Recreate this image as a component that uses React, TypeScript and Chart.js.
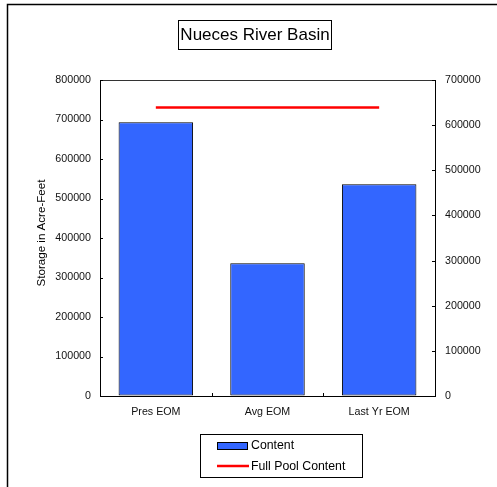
import React, { useEffect, useRef } from 'react';
import { Chart, registerables } from 'chart.js';

Chart.register(...registerables);

const categories = ['Pres EOM', 'Avg EOM', 'Last Yr EOM'];
const contentValues = [693000, 336000, 536000];
const fullPoolValues = [639000, 639000, 639000];
const chartTitle = 'Nueces River Basin';
const yAxisTitle = 'Storage in Acre-Feet';
const leftAxisMax = 800000;
const rightAxisMax = 700000;
const axisStep = 100000;

const FONT = '"Liberation Sans", Arial, Helvetica, sans-serif';

const decorPlugin = {
  id: 'decor',
  afterDraw(chart: any) {
    const ctx = chart.ctx as CanvasRenderingContext2D;
    const area = chart.chartArea;
    ctx.save();

    // outer frame
    ctx.strokeStyle = '#000';
    ctx.lineWidth = 1.5;
    ctx.strokeRect(7.5, 4.5, 700, 700);

    // title box
    ctx.lineWidth = 1;
    ctx.strokeStyle = '#000';
    ctx.strokeRect(178.5, 20.5, 153, 29);
    ctx.fillStyle = '#000';
    ctx.font = `17px ${FONT}`;
    ctx.textAlign = 'center';
    ctx.textBaseline = 'middle';
    ctx.fillText(chartTitle, 255, 35.5);

    // top border of plot area
    ctx.strokeStyle = '#333';
    ctx.beginPath();
    ctx.moveTo(area.left, area.top + 0.5);
    ctx.lineTo(area.right, area.top + 0.5);
    ctx.stroke();

    // inside ticks
    ctx.strokeStyle = '#000';
    const yL = chart.scales.y;
    const yR = chart.scales.y1;
    const xS = chart.scales.x;
    ctx.beginPath();
    yL.ticks.forEach((t: any) => {
      const py = Math.round(yL.getPixelForValue(t.value)) + 0.5;
      ctx.moveTo(area.left, py);
      ctx.lineTo(area.left + 3, py);
    });
    yR.ticks.forEach((t: any) => {
      const py = Math.round(yR.getPixelForValue(t.value)) + 0.5;
      ctx.moveTo(area.right, py);
      ctx.lineTo(area.right - 3, py);
    });
    for (let i = 1; i < categories.length; i++) {
      const px = Math.round((xS.getPixelForValue(i - 1) + xS.getPixelForValue(i)) / 2) + 0.5;
      ctx.moveTo(px, area.bottom);
      ctx.lineTo(px, area.bottom - 3);
    }
    ctx.stroke();

    // y axis title
    ctx.save();
    ctx.translate(42, 233);
    ctx.rotate(-Math.PI / 2);
    ctx.font = `11.6px ${FONT}`;
    ctx.fillStyle = '#000';
    ctx.textAlign = 'center';
    ctx.textBaseline = 'middle';
    ctx.fillText(yAxisTitle, 0, 0);
    ctx.restore();

    // legend
    ctx.strokeStyle = '#000';
    ctx.lineWidth = 1;
    ctx.strokeRect(200.5, 434.5, 162, 43);
    const ds = chart.data.datasets;
    ctx.font = `12.3px ${FONT}`;
    ctx.textAlign = 'left';
    ctx.textBaseline = 'middle';
    // bar item
    ctx.fillStyle = ds[0].backgroundColor;
    ctx.fillRect(217, 442, 31, 8);
    ctx.strokeStyle = '#000';
    ctx.strokeRect(217.5, 442.5, 30, 7);
    ctx.fillStyle = '#000';
    ctx.fillText(ds[0].label, 251, 446);
    // line item
    ctx.strokeStyle = ds[1].borderColor;
    ctx.lineWidth = 2.5;
    ctx.beginPath();
    ctx.moveTo(217, 466);
    ctx.lineTo(249, 466);
    ctx.stroke();
    ctx.fillStyle = '#000';
    ctx.fillText(ds[1].label, 251, 466.5);

    ctx.restore();
  },
};

export default function App() {
  const ref = useRef<HTMLCanvasElement>(null);

  useEffect(() => {
    if (!ref.current) return;
    const tickFont = { family: FONT, size: 10.7 };
    const chart = new Chart(ref.current, {
      type: 'bar',
      data: {
        labels: categories,
        datasets: [
          {
            type: 'bar',
            label: 'Content',
            data: contentValues,
            backgroundColor: '#3366FF',
            borderColor: '#000',
            borderWidth: 1,
            borderSkipped: false,
            categoryPercentage: 1,
            barPercentage: 0.667,
            yAxisID: 'y',
          } as any,
          {
            type: 'line',
            label: 'Full Pool Content',
            data: fullPoolValues,
            borderColor: '#FF0000',
            backgroundColor: '#FF0000',
            borderWidth: 2.5,
            pointRadius: 0,
            tension: 0,
            yAxisID: 'y1',
          } as any,
        ],
      },
      options: {
        responsive: false,
        animation: false,
        devicePixelRatio: 1,
        layout: { padding: { left: 0, right: 0, top: 80, bottom: 0 } },
        plugins: {
          legend: { display: false },
          title: { display: false },
          tooltip: { enabled: false },
        },
        scales: {
          x: {
            offset: true,
            grid: { display: true, drawOnChartArea: false, drawTicks: false },
            border: { display: true, color: '#000', width: 1 },
            ticks: { font: tickFont, color: '#111', padding: 10, maxRotation: 0 },
            afterFit: (s: any) => {
              s.height = 91;
            },
          },
          y: {
            position: 'left',
            min: 0,
            max: leftAxisMax,
            grid: { display: true, drawOnChartArea: false, drawTicks: false },
            border: { display: true, color: '#000', width: 1 },
            ticks: {
              stepSize: axisStep,
              font: tickFont,
              color: '#111',
              padding: 9,
              callback: (v: any) => String(v),
            },
            afterFit: (s: any) => {
              s.width = 100;
            },
          },
          y1: {
            position: 'right',
            min: 0,
            max: rightAxisMax,
            grid: { display: true, drawOnChartArea: false, drawTicks: false },
            border: { display: true, color: '#000', width: 1 },
            ticks: {
              stepSize: axisStep,
              font: tickFont,
              color: '#111',
              padding: 10,
              callback: (v: any) => String(v),
            },
            afterFit: (s: any) => {
              s.width = 62;
            },
          },
        },
      } as any,
      plugins: [decorPlugin],
    });
    return () => chart.destroy();
  }, []);

  return (
    <div style={{ position: 'fixed', left: 0, top: 0, width: 497, height: 487, background: '#fff' }}>
      <canvas ref={ref} width={497} height={487} style={{ display: 'block' }} />
    </div>
  );
}
